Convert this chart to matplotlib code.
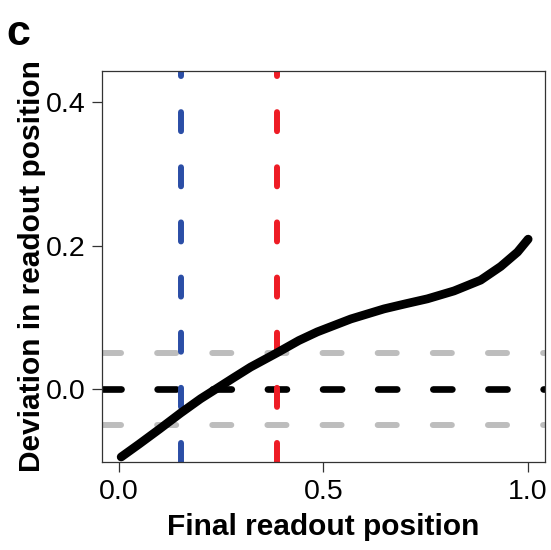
import numpy as np
import matplotlib.pyplot as plt

plt.switch_backend("Agg")
plt.rcParams["font.family"] = ["Liberation Sans", "DejaVu Sans"]
plt.rcParams["lines.scale_dashes"] = False

# curve
final_pos = [0.006, 0.05, 0.10, 0.151, 0.20, 0.236, 0.28, 0.322, 0.387, 0.44,
             0.485, 0.567, 0.648, 0.70, 0.754, 0.819, 0.884, 0.933, 0.974, 1.0]
deviation = [-0.094, -0.076, -0.055, -0.033, -0.013, 0.0, 0.016, 0.031, 0.051, 0.068,
             0.080, 0.098, 0.112, 0.119, 0.126, 0.137, 0.152, 0.171, 0.191, 0.209]

ref_levels = [-0.05, 0.05]
zero_level = 0.0
blue_x = 0.152
red_x = 0.387

fig = plt.figure(figsize=(5.51, 5.50), dpi=100)
ax = fig.add_axes([0.185, 0.16, 0.804, 0.711])

dash = (0, (13.7, 26.0))
for lv in ref_levels:
    ax.axhline(lv, color="#bdbdbd", lw=4.3, ls=dash, dash_capstyle="round")
ax.axhline(zero_level, color="black", lw=4.8, ls=dash, dash_capstyle="round")
ax.axvline(blue_x, color="#2b4ea6", lw=4.3, ls=dash, dash_capstyle="round")
ax.axvline(red_x, color="#ee1c25", lw=4.3, ls=dash, dash_capstyle="round")

ax.plot(final_pos, deviation, color="black", lw=6.3,
        solid_capstyle="round", solid_joinstyle="round")

ax.set_xlim(-0.041, 1.041)
ax.set_ylim(-0.101, 0.443)
ax.set_xticks([0.0, 0.5, 1.0])
ax.set_xticklabels(["0.0", "0.5", "1.0"])
ax.set_yticks([0.0, 0.2, 0.4])
ax.set_yticklabels(["0.0", "0.2", "0.4"])
ax.tick_params(length=7, width=0.9, labelsize=20.5, pad=5, color="#333333")
for s in ax.spines.values():
    s.set_linewidth(0.9)
    s.set_color("#333333")

ax.set_xlabel("Final readout position", fontsize=21.5, fontweight="bold", labelpad=6)
ax.set_ylabel("Deviation in readout position", fontsize=21.5, fontweight="bold", labelpad=0)

fig.text(0.012, 0.974, "c", fontsize=31, fontweight="bold", va="top", ha="left")

plt.savefig("out.png", dpi=100)
